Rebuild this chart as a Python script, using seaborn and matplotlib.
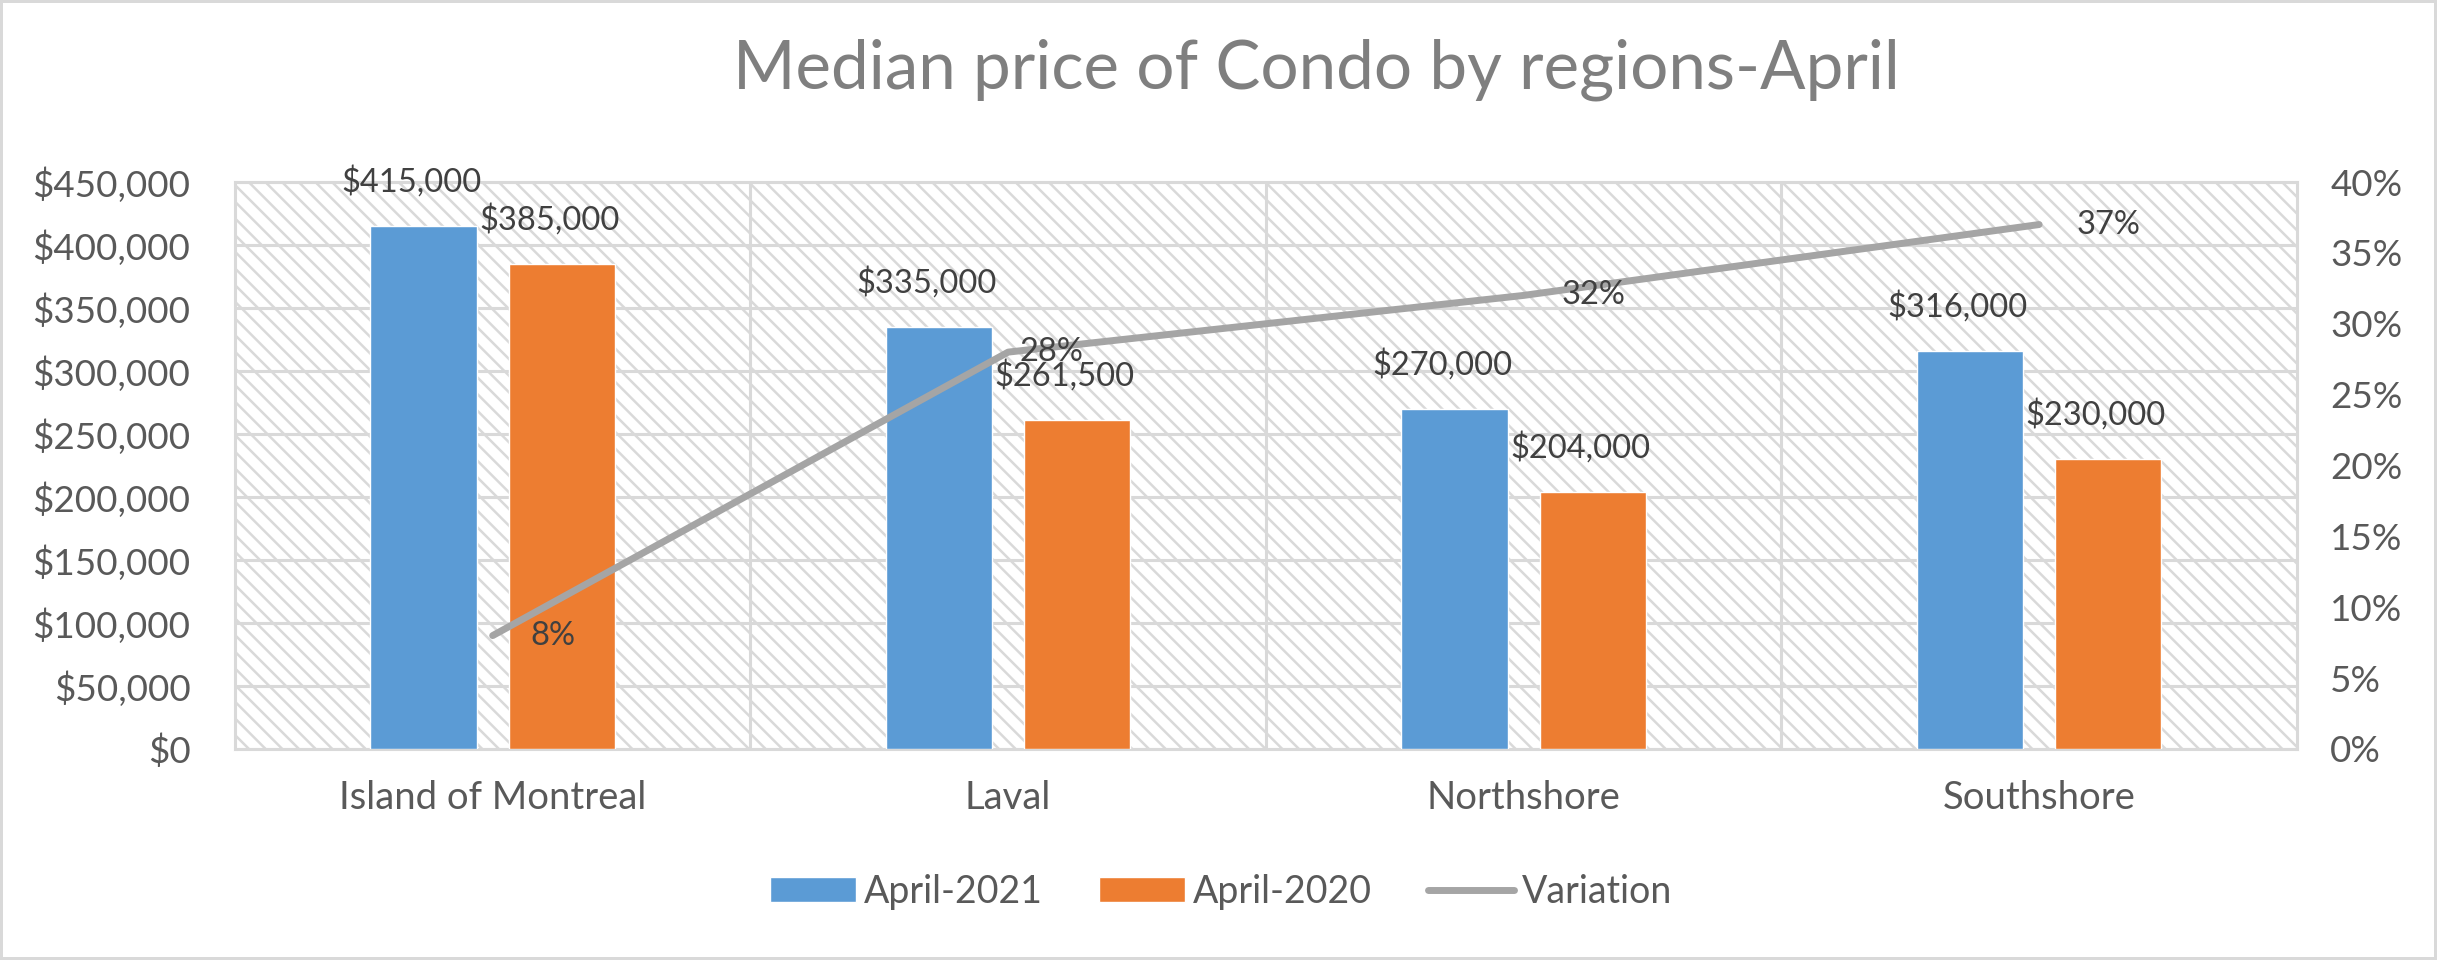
import matplotlib
matplotlib.use("Agg")
import matplotlib.pyplot as plt
import seaborn as sns
import pandas as pd
import numpy as np
from matplotlib.patches import Rectangle, Patch
from matplotlib.lines import Line2D
from matplotlib.ticker import FuncFormatter, MultipleLocator, FixedLocator

# ---- data ----
regions = ["Island of Montreal", "Laval", "Northshore", "Southshore"]
april_2021 = [415000, 335000, 270000, 316000]
april_2020 = [385000, 261500, 204000, 230000]
variation = [0.08, 0.28, 0.32, 0.37]
series_names = ["April-2021", "April-2020"]
line_name = "Variation"
title = "Median price of Condo by regions-April"

sns.set_theme(style="white")
plt.rcParams['font.family'] = ['Lato', 'DejaVu Sans']
plt.rcParams['hatch.color'] = '#dedede'
plt.rcParams['hatch.linewidth'] = 1.8

TXT = '#595959'
LBL = '#404040'
GRID = '#d9d9d9'
BLUE = '#5b9bd5'
ORANGE = '#ed7d31'
GRAY = '#a5a5a5'

df = pd.DataFrame({
    "region": regions * 2,
    "price": april_2021 + april_2020,
    "series": [series_names[0]] * 4 + [series_names[1]] * 4,
})

fig = plt.figure(figsize=(24.37, 9.6), dpi=100)
fig.patch.set_facecolor('white')
fig.patch.set_edgecolor('#d9d9d9')
fig.patch.set_linewidth(3)
ax = fig.add_axes([0.0964, 0.2198, 0.8461, 0.5906])

# hatched plot-area background
bg = Rectangle((0, 0), 1, 1, transform=ax.transAxes, facecolor='white',
               edgecolor=GRID, hatch='\\\\', linewidth=0, zorder=0)
ax.add_patch(bg)
ax.set_facecolor('none')

sns.barplot(data=df, x="region", y="price", hue="series", ax=ax,
            palette=[BLUE, ORANGE], width=0.536, gap=0.23, saturation=1,
            legend=False, zorder=3)

ax.set_xlim(-0.5, 3.5)
ax.set_ylim(0, 450000)
ax.yaxis.set_major_locator(MultipleLocator(50000))
ax.yaxis.set_major_formatter(FuncFormatter(lambda v, p: f"${v:,.0f}"))
ax.set_xlabel("")
ax.set_ylabel("")
ax.grid(axis='y', color=GRID, linewidth=2.2, zorder=1)
for xb in [0.5, 1.5, 2.5]:
    ax.axvline(xb, color=GRID, linewidth=2.2, zorder=1)
for s in ['top', 'left', 'right', 'bottom']:
    ax.spines[s].set_color(GRID)
    ax.spines[s].set_linewidth(2.2)
ax.tick_params(axis='y', length=0, pad=32, labelsize=26.5, labelcolor=TXT)
ax.tick_params(axis='x', which='major', length=0, pad=22, labelsize=27.5, labelcolor=TXT)
ax.xaxis.set_minor_locator(FixedLocator([-0.5, 0.5, 1.5, 2.5, 3.5]))
ax.tick_params(axis='x', which='minor', length=11, width=2.2, color=GRID, direction='out')

# bar data labels
for cont in ax.containers:
    for bar in cont:
        h = bar.get_height()
        ax.annotate(f"${h:,.0f}", (bar.get_x() + bar.get_width() / 2, h),
                    xytext=(-9, 32), textcoords='offset points',
                    ha='center', va='center', fontsize=23.5, color=LBL, zorder=6)

# variation line on secondary axis
ax2 = ax.twinx()
sns.lineplot(x=np.arange(len(regions)), y=variation, ax=ax2, color=GRAY,
             linewidth=5, solid_capstyle='round', zorder=4)
ax2.set_xlim(-0.5, 3.5)
ax2.set_ylim(0, 0.40)
ax2.yaxis.set_major_locator(MultipleLocator(0.05))
ax2.yaxis.set_major_formatter(FuncFormatter(lambda v, p: f"{v*100:.0f}%"))
ax2.tick_params(axis='y', length=0, pad=24, labelsize=26.5, labelcolor=TXT)
for s in ['top', 'left', 'right', 'bottom']:
    ax2.spines[s].set_visible(False)
ax2.grid(False)

x_off = [27, 8, 27, 27]
for i, v in enumerate(variation):
    ax2.annotate(f"{v*100:.0f}%", (i, v), xytext=(x_off[i], 0),
                 textcoords='offset points', ha='left', va='center',
                 fontsize=23.5, color=LBL, zorder=6)

fig.text(0.54, 0.927, title, ha='center', va='center', fontsize=48.5, color='#7f7f7f')

# legend
handles = [Patch(facecolor=BLUE, label=series_names[0]),
           Patch(facecolor=ORANGE, label=series_names[1]),
           Line2D([0], [0], color=GRAY, linewidth=5, solid_capstyle='round', label=line_name)]
fig.legend(handles=handles, loc='center', bbox_to_anchor=(0.501, 0.071), ncol=3,
           frameon=False, fontsize=27, labelcolor=TXT, handlelength=2.3,
           handleheight=0.65, handletextpad=0.2, columnspacing=1.5)

fig.savefig("out.png", dpi=100, facecolor=fig.get_facecolor(), edgecolor=fig.get_edgecolor())
